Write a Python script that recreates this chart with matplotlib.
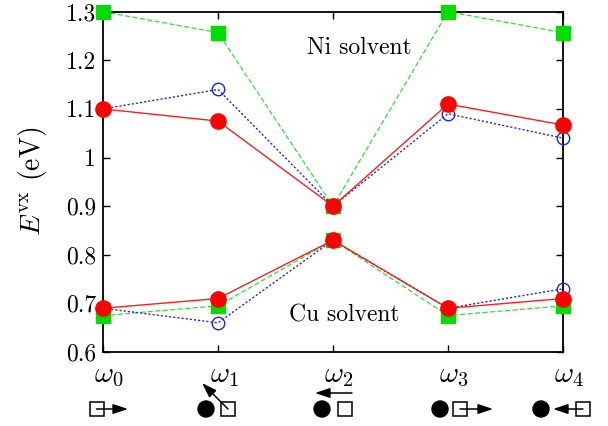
import matplotlib.pyplot as plt
from matplotlib.patches import Circle, Rectangle

plt.rcParams['font.family'] = ['cmr10', 'DejaVu Serif']
plt.rcParams['mathtext.fontset'] = 'cm'
plt.rcParams['axes.unicode_minus'] = False

# Data: jump frequencies w0..w4
jumps = [r'$\omega_0$', r'$\omega_1$', r'$\omega_2$', r'$\omega_3$', r'$\omega_4$']
x = [0, 1, 2, 3, 4]

# Ni solvent
ni_green = [1.30, 1.257, 0.90, 1.30, 1.257]
ni_blue = [1.10, 1.14, 0.90, 1.09, 1.04]
ni_red = [1.10, 1.075, 0.90, 1.11, 1.067]

# Cu solvent
cu_green = [0.675, 0.695, 0.83, 0.675, 0.695]
cu_blue = [0.69, 0.66, 0.83, 0.69, 0.73]
cu_red = [0.69, 0.71, 0.83, 0.69, 0.71]

yticks = [0.6, 0.7, 0.8, 0.9, 1.0, 1.1, 1.2, 1.3]
ytick_labels = ['0.6', '0.7', '0.8', '0.9', '1', '1.1', '1.2', '1.3']

fig = plt.figure(figsize=(6.08, 4.26), dpi=100)
ax = fig.add_axes([103 / 608, 1 - 352 / 426, 460 / 608, 340.3 / 426])

for g, b, r in [(ni_green, ni_blue, ni_red), (cu_green, cu_blue, cu_red)]:
    ax.plot(x, g, color='#33dd33', ls=(0, (4, 2)), lw=0.9, marker='s', ms=10.5,
            mfc='#00dd00', mec='#00dd00', clip_on=False, zorder=3)
    ax.plot(x, b, color='#2222dd', ls=(0, (1.5, 1.5)), lw=1.0, marker='o', ms=9,
            mfc='none', mec='#2222dd', mew=1.0, clip_on=False, zorder=4)
    ax.plot(x, r, color='#ee2222', ls='-', lw=1.0, marker='o', ms=11,
            mfc='#ff0000', mec='#ff0000', clip_on=False, zorder=5)

ax.set_xlim(0, 4)
ax.set_ylim(0.6, 1.3)
ax.set_xticks(x)
ax.set_xticklabels([])
ax.set_yticks(yticks)
ax.set_yticklabels(ytick_labels)
ax.tick_params(direction='in', top=True, right=True, length=5, width=1,
               labelsize=17, pad=5)
for s in ax.spines.values():
    s.set_linewidth(1.3)

ax.set_ylabel(r'$E^{\rm vx}$ (eV)', fontsize=20, labelpad=12)
ax.text(2.23, 1.225, 'Ni solvent', fontsize=17, ha='center', va='center')
ax.text(2.10, 0.676, 'Cu solvent', fontsize=17, ha='center', va='center')

# Overlay in pixel coordinates for the jump labels and icons
ov = fig.add_axes([0, 0, 1, 1], zorder=10)
ov.set_xlim(0, 608)
ov.set_ylim(426, 0)
ov.axis('off')
ov.patch.set_alpha(0)

tick_px = [103 + 115 * i for i in x]
for px, lab in zip(tick_px, jumps):
    ov.text(px + 6, 376, lab, fontsize=21, ha='center', va='center')

yi = 409


def square(cx):
    ov.add_patch(Rectangle((cx - 7, yi - 7), 14, 14, fill=False, ec='black', lw=1.1))


def atom(cx):
    ov.add_patch(Circle((cx, yi), 8, color='black'))


def arrow(x0, y0, x1, y1):
    ov.annotate('', xy=(x1, y1), xytext=(x0, y0),
                arrowprops=dict(arrowstyle='-|>,head_length=0.9,head_width=0.3',
                                color='black', lw=1.1, shrinkA=0, shrinkB=0))


# w0
square(tick_px[0] - 6.5)
arrow(tick_px[0] - 6.5, yi, tick_px[0] + 25, yi)
# w1
atom(tick_px[1] - 12)
square(tick_px[1] + 10)
arrow(tick_px[1] + 10, yi, tick_px[1] - 16, 383)
# w2
atom(tick_px[2] - 11)
square(tick_px[2] + 11.5)
arrow(tick_px[2] + 19, 393, tick_px[2] - 18, 393)
# w3
atom(tick_px[3] - 8)
square(tick_px[3] + 12)
arrow(tick_px[3] + 12, yi, tick_px[3] + 45, yi)
# w4
atom(tick_px[4] - 22)
square(tick_px[4] + 20)
arrow(tick_px[4] + 20, yi, tick_px[4] - 10, yi)

fig.savefig('out.png', dpi=100)
